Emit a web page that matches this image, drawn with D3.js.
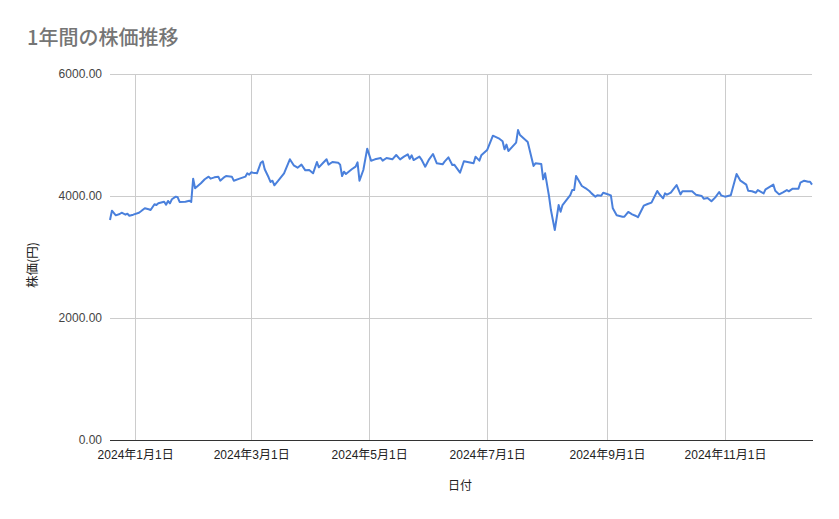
<!DOCTYPE html>
<html><head><meta charset="utf-8">
<script src="https://cdn.jsdelivr.net/npm/d3@7"></script>
<style>
html,body{margin:0;padding:0;background:#fff;}
svg{display:block;font-family:"Liberation Sans",Arial,"Noto Sans CJK JP",sans-serif;}
</style></head><body>
<svg id="chart" width="839" height="519"></svg>
<script>
const titleText = "1年間の株価推移";
const xAxisTitle = "日付";
const yAxisTitle = "株価(円)";
const dates = [
"2023-12-19","2023-12-20","2023-12-22","2023-12-24","2023-12-25","2023-12-27","2023-12-28","2023-12-29","2023-12-31",
"2024-01-03","2024-01-04","2024-01-06","2024-01-08","2024-01-09","2024-01-11","2024-01-12","2024-01-13","2024-01-14","2024-01-16","2024-01-17","2024-01-18","2024-01-19","2024-01-20","2024-01-22","2024-01-23","2024-01-24","2024-01-27","2024-01-29","2024-01-30","2024-01-31",
"2024-02-01","2024-02-04","2024-02-06","2024-02-08","2024-02-09","2024-02-11","2024-02-13","2024-02-14","2024-02-16","2024-02-17","2024-02-20","2024-02-21","2024-02-24","2024-02-27","2024-02-28","2024-02-29",
"2024-03-01","2024-03-02","2024-03-04","2024-03-06","2024-03-07","2024-03-08","2024-03-10","2024-03-11","2024-03-12","2024-03-13","2024-03-15","2024-03-18","2024-03-21","2024-03-23","2024-03-25","2024-03-27","2024-03-29","2024-03-31",
"2024-04-02","2024-04-04","2024-04-05","2024-04-07","2024-04-09","2024-04-10","2024-04-12","2024-04-15","2024-04-16","2024-04-17","2024-04-18","2024-04-19","2024-04-22","2024-04-24","2024-04-25","2024-04-26","2024-04-28","2024-04-30",
"2024-05-02","2024-05-04","2024-05-07","2024-05-08","2024-05-10","2024-05-13","2024-05-15","2024-05-17","2024-05-19","2024-05-21","2024-05-22","2024-05-23","2024-05-24","2024-05-27","2024-05-28","2024-05-30",
"2024-06-01","2024-06-03","2024-06-05","2024-06-08","2024-06-09","2024-06-11","2024-06-13","2024-06-14","2024-06-17","2024-06-19","2024-06-24","2024-06-25","2024-06-27","2024-06-28",
"2024-07-01","2024-07-04","2024-07-07","2024-07-09","2024-07-10","2024-07-11","2024-07-12","2024-07-16","2024-07-17","2024-07-18","2024-07-22","2024-07-25","2024-07-26","2024-07-29","2024-07-30","2024-07-31",
"2024-08-02","2024-08-03","2024-08-05","2024-08-07","2024-08-08","2024-08-09","2024-08-11","2024-08-13","2024-08-14","2024-08-15","2024-08-16","2024-08-19","2024-08-21","2024-08-23","2024-08-24","2024-08-26","2024-08-27","2024-08-29","2024-08-30",
"2024-09-01","2024-09-03","2024-09-04","2024-09-06","2024-09-09","2024-09-10","2024-09-12","2024-09-14","2024-09-16","2024-09-17","2024-09-20","2024-09-22","2024-09-24","2024-09-27","2024-09-28","2024-09-30",
"2024-10-01","2024-10-02","2024-10-04","2024-10-07","2024-10-09","2024-10-10","2024-10-15","2024-10-17","2024-10-20","2024-10-21","2024-10-23","2024-10-25","2024-10-27","2024-10-29","2024-10-30",
"2024-11-01","2024-11-04","2024-11-07","2024-11-09","2024-11-12","2024-11-13","2024-11-15","2024-11-17","2024-11-18","2024-11-21","2024-11-22","2024-11-26","2024-11-27","2024-11-29",
"2024-12-01","2024-12-03","2024-12-04","2024-12-06","2024-12-09","2024-12-10","2024-12-12","2024-12-14","2024-12-15","2024-12-16"
];
const prices = [
3607,3759,3683,3705,3726,3694,3710,3677,3694,
3726,3749,3798,3782,3770,3864,3852,3880,3890,3907,3857,3918,3880,3946,3989,3979,3902,3907,3923,3902,4284,
4126,4208,4274,4317,4284,4306,4317,4251,4306,4328,4317,4251,4284,4317,4372,4349,
4388,4382,4372,4546,4569,4438,4307,4230,4251,4175,4251,4372,4602,4503,4464,4514,4421,4426,
4372,4557,4470,4536,4602,4514,4557,4546,4514,4328,4398,4361,4438,4481,4552,4251,4426,4776,
4579,4601,4623,4579,4623,4601,4672,4601,4645,4683,4611,4667,4590,4645,4601,4481,
4601,4689,4536,4519,4563,4634,4508,4514,4382,4569,4536,4645,4579,4667,
4754,4989,4946,4897,4766,4842,4738,4874,5082,5000,4885,4492,4536,4525,4274,4372,
4000,3770,3443,3852,3743,3852,3934,4016,4098,4098,4328,4164,4126,4077,4043,3989,4011,4005,4054,
4033,4011,3798,3683,3661,3661,3738,3700,3672,3651,3841,3869,3891,4082,4033,3962,
4043,4021,4054,4180,4027,4077,4077,4021,4000,3956,3967,3913,3978,4066,4011,
3989,4011,4361,4251,4187,4087,4077,4054,4098,4043,4110,4187,4087,4027,
4060,4098,4077,4120,4120,4218,4251,4235,4234,4187
];
const yTicks = [0, 2000, 4000, 6000];
const xTickDates = ["2024-01-01","2024-03-01","2024-05-01","2024-07-01","2024-09-01","2024-11-01"];

(function(){
const parse = d3.utcParse("%Y-%m-%d");
const data = dates.map((d,i)=>({date:parse(d), value:prices[i]}));
const xTicks = xTickDates.map(parse);

const svg = d3.select("#chart");
const mL = 110, mR = 812, mT = 74, mB = 440;

const x = d3.scaleUtc().domain(d3.extent(data, d=>d.date)).range([mL, mR]);
const y = d3.scaleLinear().domain([0, 6000]).range([mB, mT]);

svg.append("text").attr("x", 27).attr("y", 45)
  .attr("font-size", 20).attr("font-weight", 500).attr("fill", "#757575")
  .attr("font-family", '"Noto Sans CJK JP","Liberation Sans",sans-serif')
  .text(titleText);

svg.append("g").selectAll("line").data(yTicks.filter(t=>t>0)).join("line")
  .attr("x1", mL).attr("x2", mR)
  .attr("y1", d=>Math.round(y(d))+0.5).attr("y2", d=>Math.round(y(d))+0.5)
  .attr("stroke", "#cccccc").attr("stroke-width", 1);

svg.append("g").selectAll("line").data(xTicks).join("line")
  .attr("x1", d=>Math.round(x(d))+0.5).attr("x2", d=>Math.round(x(d))+0.5)
  .attr("y1", mT).attr("y2", mB)
  .attr("stroke", "#cccccc").attr("stroke-width", 1);

const yAxis = d3.axisLeft(y).tickValues(yTicks).tickFormat(d3.format(".2f")).tickSize(0).tickPadding(8);
const gy = svg.append("g").attr("transform", `translate(${mL},0)`).call(yAxis);
gy.select(".domain").remove();
gy.selectAll("text").attr("font-size", 12).attr("fill", "#444444")
  .attr("font-family", '"Liberation Sans",Arial,sans-serif');

const fmtJ = d => `${d.getUTCFullYear()}年${d.getUTCMonth()+1}月${d.getUTCDate()}日`;
const xAxis = d3.axisBottom(x).tickValues(xTicks).tickFormat(fmtJ).tickSize(0).tickPadding(10);
const gx = svg.append("g").attr("transform", `translate(0,${mB})`).call(xAxis);
gx.select(".domain").remove();
gx.selectAll("text").attr("font-size", 12).attr("fill", "#222222")
  .attr("font-family", '"Liberation Sans",Arial,"Noto Sans CJK JP",sans-serif');

svg.append("line").attr("x1", mL).attr("x2", mR+1)
  .attr("y1", mB+0.5).attr("y2", mB+0.5)
  .attr("stroke", "#333333").attr("stroke-width", 1);

const line = d3.line().x(d=>x(d.date)).y(d=>y(d.value));
svg.append("path").datum(data).attr("d", line)
  .attr("fill", "none").attr("stroke", "#4a80dc").attr("stroke-width", 2)
  .attr("stroke-linejoin", "round");

svg.append("text").attr("x", 460).attr("y", 490).attr("text-anchor", "middle")
  .attr("font-size", 12).attr("fill", "#222222").text(xAxisTitle);
svg.append("text").attr("transform", "translate(37,265) rotate(-90)").attr("text-anchor", "middle")
  .attr("font-size", 12.5).attr("fill", "#222222")
  .attr("font-family", '"Noto Sans CJK JP",sans-serif').text(yAxisTitle);
})();
</script>
</body></html>
